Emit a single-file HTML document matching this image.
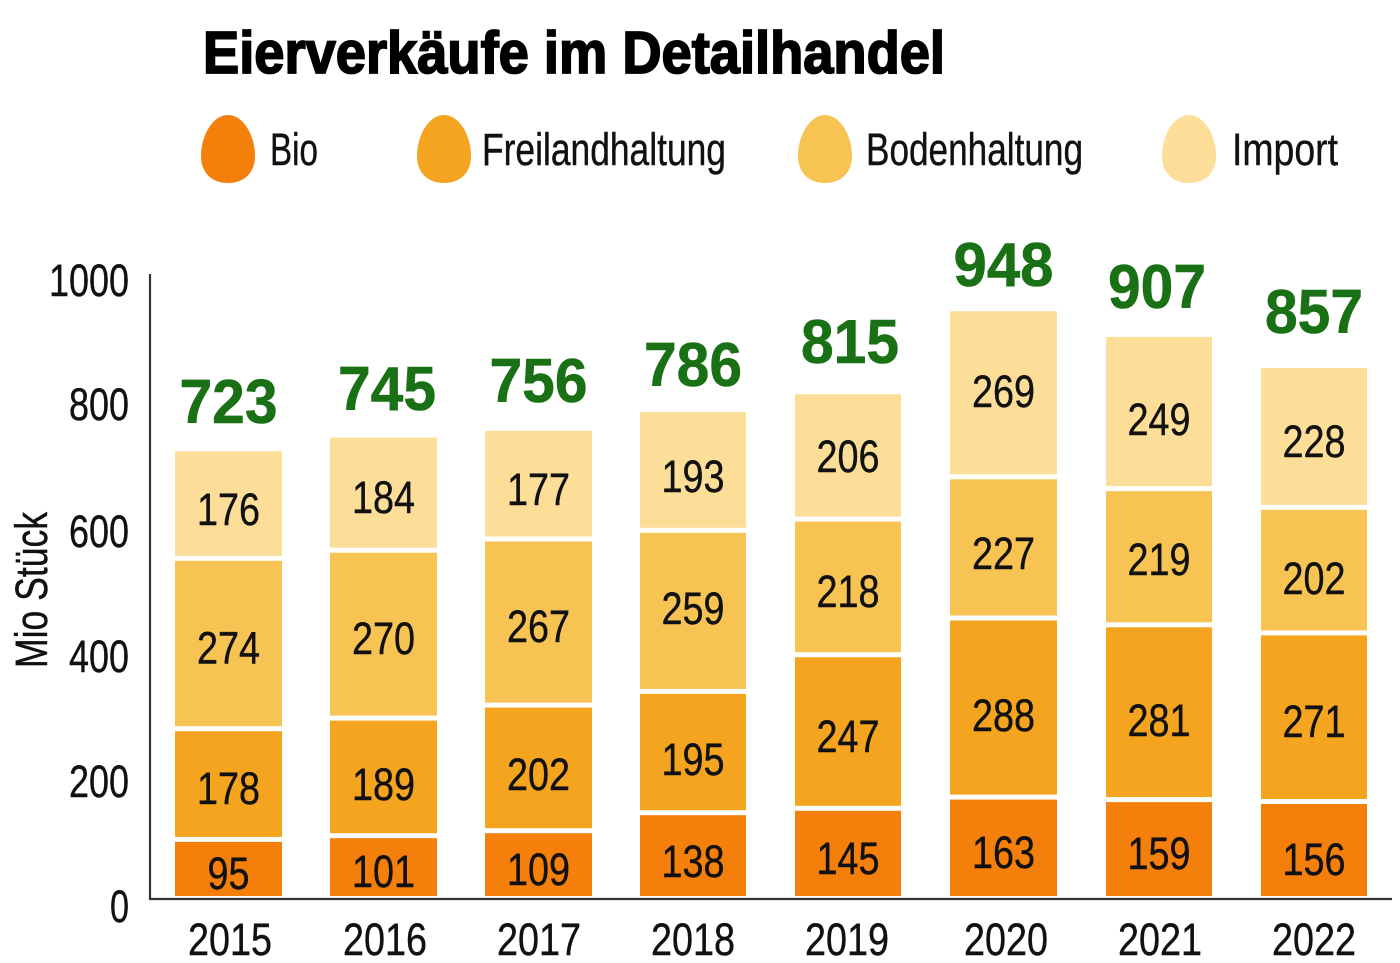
<!DOCTYPE html>
<html>
<head>
<meta charset="utf-8">
<style>
html,body{margin:0;padding:0;background:#fff;}
svg{display:block;}
.n{font-family:"Liberation Sans Narrow","Liberation Sans",sans-serif;font-size:45px;fill:#111;stroke:#111;stroke-width:0.4;}
.t{font-family:"Liberation Sans",sans-serif;font-weight:bold;font-size:62px;fill:#1a7014;stroke:#1a7014;stroke-width:0.6;}
</style>
</head>
<body>
<svg width="1400" height="963" viewBox="0 0 1400 963" xmlns="http://www.w3.org/2000/svg">
<rect width="1400" height="963" fill="#fff"/>
<!-- Title -->
<text x="203" y="73" font-family="Liberation Sans, sans-serif" font-weight="bold" font-size="59" fill="#000" stroke="#000" stroke-width="1.8" textLength="742" lengthAdjust="spacingAndGlyphs">Eierverkäufe im Detailhandel</text>

<!-- Legend -->
<g>
<path d="M228,115 C243,115 255,135 255,156 C255,173 244,183 228,183 C212,183 201,173 201,156 C201,135 213,115 228,115 Z" fill="#f57f0b"/>
<text class="n" x="270" y="165" font-size="46" textLength="48" lengthAdjust="spacingAndGlyphs">Bio</text>
<path d="M444,115 C459,115 471,135 471,156 C471,173 460,183 444,183 C428,183 417,173 417,156 C417,135 429,115 444,115 Z" fill="#f5a41f"/>
<text class="n" x="482" y="165" font-size="46" textLength="244" lengthAdjust="spacingAndGlyphs">Freilandhaltung</text>
<path d="M825,115 C840,115 852,135 852,156 C852,173 841,183 825,183 C809,183 798,173 798,156 C798,135 810,115 825,115 Z" fill="#f7c352"/>
<text class="n" x="866" y="165" font-size="46" textLength="217" lengthAdjust="spacingAndGlyphs">Bodenhaltung</text>
<path d="M1189,115 C1204,115 1216,135 1216,156 C1216,173 1205,183 1189,183 C1173,183 1162,173 1162,156 C1162,135 1174,115 1189,115 Z" fill="#fcde98"/>
<text class="n" x="1232" y="165" font-size="46" textLength="106" lengthAdjust="spacingAndGlyphs">Import</text>
</g>

<!-- Y axis label -->
<text class="n" transform="translate(47,590) rotate(-90)" text-anchor="middle" textLength="156" lengthAdjust="spacingAndGlyphs">Mio Stück</text>

<!-- Tick labels -->
<g>
<text class="n" x="129" y="296" text-anchor="end" textLength="80" lengthAdjust="spacingAndGlyphs">1000</text>
<text class="n" x="129" y="420" text-anchor="end" textLength="60" lengthAdjust="spacingAndGlyphs">800</text>
<text class="n" x="129" y="547" text-anchor="end" textLength="60" lengthAdjust="spacingAndGlyphs">600</text>
<text class="n" x="129" y="672" text-anchor="end" textLength="60" lengthAdjust="spacingAndGlyphs">400</text>
<text class="n" x="129" y="797" text-anchor="end" textLength="60" lengthAdjust="spacingAndGlyphs">200</text>
<text class="n" x="129" y="922" text-anchor="end" textLength="19" lengthAdjust="spacingAndGlyphs">0</text>
</g>

<!-- Bars -->
<g>
<!-- 2015 -->
<rect x="175" y="841.9" width="107" height="54.1" fill="#f57f0b"/>
<rect x="175" y="731.2" width="107" height="105.7" fill="#f5a41f"/>
<rect x="175" y="560.8" width="107" height="165.4" fill="#f7c352"/>
<rect x="175" y="451.3" width="107" height="104.5" fill="#fcde98"/>
<!-- 2016 -->
<rect x="330" y="838.2" width="107" height="57.8" fill="#f57f0b"/>
<rect x="330" y="720.6" width="107" height="112.6" fill="#f5a41f"/>
<rect x="330" y="552.7" width="107" height="162.9" fill="#f7c352"/>
<rect x="330" y="437.6" width="107" height="110.1" fill="#fcde98"/>
<!-- 2017 -->
<rect x="485" y="833.2" width="107" height="62.8" fill="#f57f0b"/>
<rect x="485" y="707.6" width="107" height="120.6" fill="#f5a41f"/>
<rect x="485" y="541.5" width="107" height="161.1" fill="#f7c352"/>
<rect x="485" y="430.8" width="107" height="105.7" fill="#fcde98"/>
<!-- 2018 -->
<rect x="640" y="815.2" width="106" height="80.8" fill="#f57f0b"/>
<rect x="640" y="693.9" width="106" height="116.3" fill="#f5a41f"/>
<rect x="640" y="532.8" width="106" height="156.1" fill="#f7c352"/>
<rect x="640" y="412.1" width="106" height="115.7" fill="#fcde98"/>
<!-- 2019 -->
<rect x="795" y="810.8" width="106" height="85.2" fill="#f57f0b"/>
<rect x="795" y="657.2" width="106" height="148.6" fill="#f5a41f"/>
<rect x="795" y="521.6" width="106" height="130.6" fill="#f7c352"/>
<rect x="795" y="394.1" width="106" height="122.5" fill="#fcde98"/>
<!-- 2020 -->
<rect x="950" y="799.6" width="107" height="96.4" fill="#f57f0b"/>
<rect x="950" y="620.5" width="107" height="174.1" fill="#f5a41f"/>
<rect x="950" y="479.3" width="107" height="136.2" fill="#f7c352"/>
<rect x="950" y="311.3" width="107" height="163" fill="#fcde98"/>
<!-- 2021 -->
<rect x="1106" y="802.1" width="106" height="93.9" fill="#f57f0b"/>
<rect x="1106" y="627.3" width="106" height="169.8" fill="#f5a41f"/>
<rect x="1106" y="491.1" width="106" height="131.2" fill="#f7c352"/>
<rect x="1106" y="336.9" width="106" height="149.2" fill="#fcde98"/>
<!-- 2022 -->
<rect x="1261" y="804" width="106" height="92" fill="#f57f0b"/>
<rect x="1261" y="635.4" width="106" height="163.6" fill="#f5a41f"/>
<rect x="1261" y="509.8" width="106" height="120.6" fill="#f7c352"/>
<rect x="1261" y="368" width="106" height="136.8" fill="#fcde98"/>
</g>

<!-- Axes -->
<line x1="150" y1="274" x2="150" y2="900" stroke="#333" stroke-width="2.2"/>
<line x1="149" y1="899" x2="1392" y2="899" stroke="#333" stroke-width="2.2"/>

<!-- Segment labels -->
<g>
<text class="n" x="228.5" y="889" text-anchor="middle" textLength="42" lengthAdjust="spacingAndGlyphs">95</text>
<text class="n" x="228.5" y="804" text-anchor="middle" textLength="63" lengthAdjust="spacingAndGlyphs">178</text>
<text class="n" x="228.5" y="663.5" text-anchor="middle" textLength="63" lengthAdjust="spacingAndGlyphs">274</text>
<text class="n" x="228.5" y="525" text-anchor="middle" textLength="63" lengthAdjust="spacingAndGlyphs">176</text>

<text class="n" x="383.5" y="887" text-anchor="middle" textLength="63" lengthAdjust="spacingAndGlyphs">101</text>
<text class="n" x="383.5" y="800" text-anchor="middle" textLength="63" lengthAdjust="spacingAndGlyphs">189</text>
<text class="n" x="383.5" y="654" text-anchor="middle" textLength="63" lengthAdjust="spacingAndGlyphs">270</text>
<text class="n" x="383.5" y="513" text-anchor="middle" textLength="63" lengthAdjust="spacingAndGlyphs">184</text>

<text class="n" x="538.5" y="885" text-anchor="middle" textLength="63" lengthAdjust="spacingAndGlyphs">109</text>
<text class="n" x="538.5" y="790" text-anchor="middle" textLength="63" lengthAdjust="spacingAndGlyphs">202</text>
<text class="n" x="538.5" y="642" text-anchor="middle" textLength="63" lengthAdjust="spacingAndGlyphs">267</text>
<text class="n" x="538.5" y="505" text-anchor="middle" textLength="63" lengthAdjust="spacingAndGlyphs">177</text>

<text class="n" x="693" y="877" text-anchor="middle" textLength="63" lengthAdjust="spacingAndGlyphs">138</text>
<text class="n" x="693" y="775" text-anchor="middle" textLength="63" lengthAdjust="spacingAndGlyphs">195</text>
<text class="n" x="693" y="624" text-anchor="middle" textLength="63" lengthAdjust="spacingAndGlyphs">259</text>
<text class="n" x="693" y="492" text-anchor="middle" textLength="63" lengthAdjust="spacingAndGlyphs">193</text>

<text class="n" x="848" y="874" text-anchor="middle" textLength="63" lengthAdjust="spacingAndGlyphs">145</text>
<text class="n" x="848" y="752" text-anchor="middle" textLength="63" lengthAdjust="spacingAndGlyphs">247</text>
<text class="n" x="848" y="607" text-anchor="middle" textLength="63" lengthAdjust="spacingAndGlyphs">218</text>
<text class="n" x="848" y="472" text-anchor="middle" textLength="63" lengthAdjust="spacingAndGlyphs">206</text>

<text class="n" x="1003.5" y="868" text-anchor="middle" textLength="63" lengthAdjust="spacingAndGlyphs">163</text>
<text class="n" x="1003.5" y="731" text-anchor="middle" textLength="63" lengthAdjust="spacingAndGlyphs">288</text>
<text class="n" x="1003.5" y="569" text-anchor="middle" textLength="63" lengthAdjust="spacingAndGlyphs">227</text>
<text class="n" x="1003.5" y="407" text-anchor="middle" textLength="63" lengthAdjust="spacingAndGlyphs">269</text>

<text class="n" x="1159" y="869" text-anchor="middle" textLength="63" lengthAdjust="spacingAndGlyphs">159</text>
<text class="n" x="1159" y="736" text-anchor="middle" textLength="63" lengthAdjust="spacingAndGlyphs">281</text>
<text class="n" x="1159" y="575" text-anchor="middle" textLength="63" lengthAdjust="spacingAndGlyphs">219</text>
<text class="n" x="1159" y="435" text-anchor="middle" textLength="63" lengthAdjust="spacingAndGlyphs">249</text>

<text class="n" x="1314" y="875" text-anchor="middle" textLength="63" lengthAdjust="spacingAndGlyphs">156</text>
<text class="n" x="1314" y="737" text-anchor="middle" textLength="63" lengthAdjust="spacingAndGlyphs">271</text>
<text class="n" x="1314" y="594" text-anchor="middle" textLength="63" lengthAdjust="spacingAndGlyphs">202</text>
<text class="n" x="1314" y="457" text-anchor="middle" textLength="63" lengthAdjust="spacingAndGlyphs">228</text>
</g>

<!-- Totals -->
<text class="t" x="228.5" y="423" text-anchor="middle" textLength="98" lengthAdjust="spacingAndGlyphs">723</text>
<text class="t" x="387" y="410" text-anchor="middle" textLength="98" lengthAdjust="spacingAndGlyphs">745</text>
<text class="t" x="538.5" y="402" text-anchor="middle" textLength="98" lengthAdjust="spacingAndGlyphs">756</text>
<text class="t" x="693" y="386" text-anchor="middle" textLength="98" lengthAdjust="spacingAndGlyphs">786</text>
<text class="t" x="850" y="363" text-anchor="middle" textLength="98" lengthAdjust="spacingAndGlyphs">815</text>
<text class="t" x="1003.5" y="286" text-anchor="middle" textLength="100" lengthAdjust="spacingAndGlyphs">948</text>
<text class="t" x="1157" y="308" text-anchor="middle" textLength="98" lengthAdjust="spacingAndGlyphs">907</text>
<text class="t" x="1314" y="333" text-anchor="middle" textLength="98" lengthAdjust="spacingAndGlyphs">857</text>

<!-- Year labels -->
<text class="n" x="230" y="955" text-anchor="middle" textLength="84" lengthAdjust="spacingAndGlyphs">2015</text>
<text class="n" x="385" y="955" text-anchor="middle" textLength="84" lengthAdjust="spacingAndGlyphs">2016</text>
<text class="n" x="539" y="955" text-anchor="middle" textLength="84" lengthAdjust="spacingAndGlyphs">2017</text>
<text class="n" x="693" y="955" text-anchor="middle" textLength="84" lengthAdjust="spacingAndGlyphs">2018</text>
<text class="n" x="847" y="955" text-anchor="middle" textLength="84" lengthAdjust="spacingAndGlyphs">2019</text>
<text class="n" x="1006" y="955" text-anchor="middle" textLength="84" lengthAdjust="spacingAndGlyphs">2020</text>
<text class="n" x="1160" y="955" text-anchor="middle" textLength="84" lengthAdjust="spacingAndGlyphs">2021</text>
<text class="n" x="1314" y="955" text-anchor="middle" textLength="84" lengthAdjust="spacingAndGlyphs">2022</text>
</svg>
</body>
</html>
